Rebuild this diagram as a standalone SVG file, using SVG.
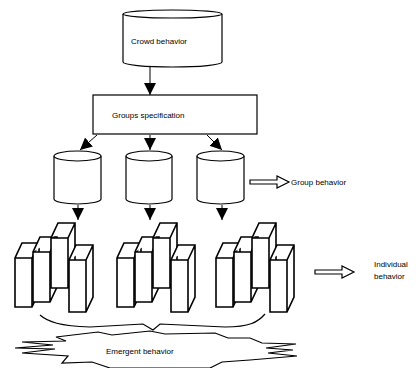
<svg xmlns="http://www.w3.org/2000/svg" width="416" height="368" viewBox="0 0 416 368">
<style>
.t{font-family:"Liberation Sans",Arial,sans-serif;font-size:8px;fill:#000}
.s{fill:#fff;stroke:#000;stroke-width:1.2}
.b{fill:#fff;stroke:#000;stroke-width:1.6;stroke-linejoin:miter}
.c{fill:none;stroke:#000;stroke-width:1.2}
.l{fill:none;stroke:#000;stroke-width:1}
</style>
<defs>
<marker id="ah" viewBox="0 0 10 10" refX="10" refY="5" markerWidth="12" markerHeight="12" markerUnits="userSpaceOnUse" orient="auto">
<path d="M0,0 L10,5 L0,10 Z" fill="#000"/>
</marker>
<g id="cluster">
<path class="b" d="M15,307 L15,258 L22,243 L39,243 L39,292 L32,307 Z M15,258 L32,258 L39,243 M32,258 L32,307"/>
<path class="b" d="M33,302 L33,252 L40,237 L57,237 L57,287 L50,302 Z M33,252 L50,252 L57,237 M50,252 L50,302"/>
<path class="b" d="M51,288 L51,238 L58,223 L75,223 L75,273 L68,288 Z M51,238 L68,238 L75,223 M68,238 L68,288"/>
<path class="b" d="M69,312 L69,260 L76,245 L93,245 L93,297 L86,312 Z M69,260 L86,260 L93,245 M86,260 L86,312"/>
</g>
</defs>

<g id="crowd-behavior">
<path class="s" d="M123,14 L123,62 A49.5,5 0 0 0 222,62 L222,14"/>
<ellipse class="s" cx="172.5" cy="14" rx="49.5" ry="4"/>
<text class="t" x="131" y="44">Crowd behavior</text>
</g>

<g id="groups-specification">
<rect class="s" x="93" y="95" width="164" height="39"/>
<text class="t" x="112" y="118">Groups specification</text>
</g>

<g id="group-1">
<path class="s" d="M54,156 L54,199 A23.5,5 0 0 0 101,199 L101,156"/>
<ellipse class="s" cx="77.5" cy="156" rx="23.5" ry="5"/>
</g>
<g id="group-2">
<path class="s" d="M126,156 L126,199 A23,5 0 0 0 172,199 L172,156"/>
<ellipse class="s" cx="149" cy="156" rx="23" ry="5"/>
</g>
<g id="group-3">
<path class="s" d="M197,156 L197,199 A23.5,5 0 0 0 244,199 L244,156"/>
<ellipse class="s" cx="220.5" cy="156" rx="23.5" ry="5"/>
</g>

<g id="group-behavior">
<path class="s" d="M250,180 L277,180 L277,176 L289,182 L277,188 L277,184 L250,184 Z"/>
<text class="t" x="291" y="185">Group behavior</text>
</g>

<g id="individuals-1"><use href="#cluster"/></g>
<g id="individuals-2"><use href="#cluster" transform="translate(102,0)"/></g>
<g id="individuals-3"><use href="#cluster" transform="translate(201,0)"/></g>

<g id="individual-behavior">
<path class="s" d="M315,270 L342,270 L342,266 L354,272 L342,278 L342,274 L315,274 Z"/>
<text class="t" x="374" y="267">Individual</text>
<text class="t" x="374" y="279">behavior</text>
</g>

<g id="emergent-behavior">
<path class="c" d="M40,315 C48,322 60,326 90,327 L143,324 L153,330 L160,324 L225,327 C250,327 258,322 265,314"/>
<path class="s" d="M56,337 L98,332 L112,335 L150,331 L165,334 L215,333 L228,338 L250,338 L262,343 L296,344 L266,348 L293,350 L268,353 L297,356 L250,360 L222,362 L210,368 L110,368 L92,362 L62,363 L68,356 L22,353 L55,349 L15,348 L53,345 L22,342 L66,341 Z"/>
<text class="t" x="106" y="354">Emergent behavior</text>
</g>

<g id="connectors">
<line class="l" x1="150" y1="67" x2="150" y2="95" marker-end="url(#ah)"/>
<line class="l" x1="97" y1="135" x2="80" y2="150" marker-end="url(#ah)"/>
<line class="l" x1="150" y1="135" x2="150" y2="150" marker-end="url(#ah)"/>
<line class="l" x1="207" y1="135" x2="222" y2="150" marker-end="url(#ah)"/>
<line class="l" x1="78" y1="205" x2="78" y2="220" marker-end="url(#ah)"/>
<line class="l" x1="150" y1="205" x2="150" y2="220" marker-end="url(#ah)"/>
<line class="l" x1="222" y1="205" x2="222" y2="220" marker-end="url(#ah)"/>
</g>
</svg>
